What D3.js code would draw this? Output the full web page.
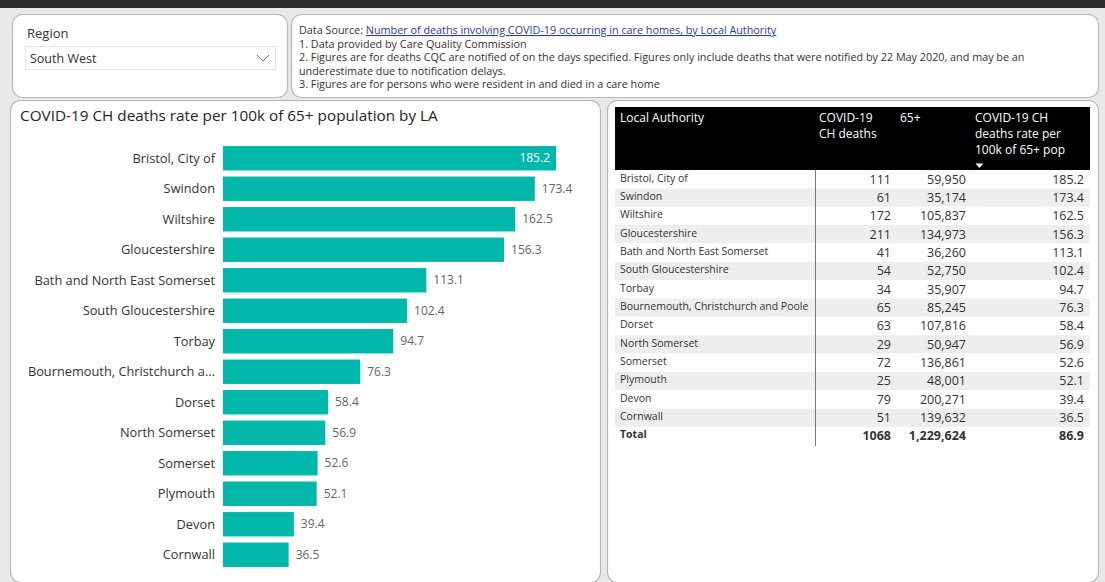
<!DOCTYPE html>
<html>
<head>
<meta charset="utf-8">
<script src="https://cdn.jsdelivr.net/npm/d3@7"></script>
<style>
  body { margin: 0; background: #e9e9e9; }
  svg { display: block; font-family: "Open Sans", "Noto Sans", sans-serif; }
</style>
</head>
<body>
<div id="chart"></div>
<script>
var authorities = ["Bristol, City of", "Swindon", "Wiltshire", "Gloucestershire", "Bath and North East Somerset",
  "South Gloucestershire", "Torbay", "Bournemouth, Christchurch and Poole", "Dorset", "North Somerset",
  "Somerset", "Plymouth", "Devon", "Cornwall"];
var deaths = [111, 61, 172, 211, 41, 54, 34, 65, 63, 29, 72, 25, 79, 51];
var pop65 = [59950, 35174, 105837, 134973, 36260, 52750, 35907, 85245, 107816, 50947, 136861, 48001, 200271, 139632];
var rates = [185.2, 173.4, 162.5, 156.3, 113.1, 102.4, 94.7, 76.3, 58.4, 56.9, 52.6, 52.1, 39.4, 36.5];
var totalRow = ["Total", 1068, 1229624, 86.9];
var tableHeaders = [["Local Authority"], ["COVID-19", "CH deaths"], ["65+"], ["COVID-19 CH", "deaths rate per", "100k of 65+ pop"]];
var chartTitle = "COVID-19 CH deaths rate per 100k of 65+ population by LA";
var regionLabel = "Region";
var regionValue = "South West";
var notes = [
  "1. Data provided by Care Quality Commission",
  "2. Figures are for deaths CQC are notified of on the days specified. Figures only include deaths that were notified by 22 May 2020, and may be an",
  "underestimate due to notification delays.",
  "3. Figures are for persons who were resident in and died in a care home"
];
var sourceLink = "Number of deaths involving COVID-19 occurring in care homes, by Local Authority";

var W = 1105, H = 582;
var teal = "#01B8AA";

var svg = d3.select("#chart").append("svg")
  .attr("width", W)
  .attr("height", H);

svg.append("rect").attr("width", W).attr("height", H).attr("fill", "#e9e9e9");
// dark strip along the top
svg.append("rect").attr("width", W).attr("height", 8).attr("fill", "#2b2b2b");

function panel(x, y, w, h) {
  svg.append("rect")
    .attr("x", x).attr("y", y)
    .attr("width", w).attr("height", h)
    .attr("rx", 10)
    .attr("fill", "#fff")
    .attr("stroke", "#b9b9b9")
    .attr("stroke-width", 1.2);
}

panel(12.5, 14.5, 275, 83);
panel(291.5, 14.5, 807, 83);
panel(10.5, 100.5, 590, 482);
panel(607.5, 100.5, 491, 482);

// ---- region slicer
svg.append("text").attr("x", 27).attr("y", 38)
  .attr("font-size", 13).attr("fill", "#333").text(regionLabel);
svg.append("rect").attr("x", 25.5).attr("y", 46.5).attr("width", 250).attr("height", 23)
  .attr("fill", "#fff").attr("stroke", "#e4e4e4");
svg.append("text").attr("x", 30).attr("y", 63)
  .attr("font-size", 12.5).attr("fill", "#333").text(regionValue);
svg.append("path").attr("d", "M257,55 L263,61 L269,55")
  .attr("fill", "none").attr("stroke", "#777").attr("stroke-width", 1);

// ---- notes
var notesG = svg.append("g").attr("font-size", 10.8).attr("fill", "#333");
var src = notesG.append("text").attr("x", 299).attr("y", 34);
src.append("tspan").text("Data Source: ");
src.append("tspan").attr("fill", "#2a3c9c").attr("text-decoration", "underline").text(sourceLink);
notesG.selectAll("text.note")
  .data(notes)
  .enter()
  .append("text")
  .attr("class", "note")
  .attr("x", 299)
  .attr("y", function (d, i) { return 47.5 + i * 13.5; })
  .text(function (d) { return d; });

// ---- bar chart
svg.append("text").attr("x", 20).attr("y", 121)
  .attr("font-size", 15.3).attr("fill", "#252423").text(chartTitle);

var y = d3.scaleBand()
  .domain(authorities)
  .range([143, 570])
  .paddingInner(0.2)
  .paddingOuter(0.1);

var x = d3.scaleLinear()
  .domain([0, 185.2])
  .range([223, 556]);

var bars = svg.append("g");
bars.selectAll("rect")
  .data(rates)
  .enter()
  .append("rect")
  .attr("x", x(0))
  .attr("y", function (d, i) { return y(authorities[i]); })
  .attr("width", function (d) { return x(d) - x(0); })
  .attr("height", y.bandwidth())
  .attr("fill", teal);

var maxLabel = 189;
bars.selectAll("text.cat")
  .data(authorities)
  .enter()
  .append("text")
  .attr("class", "cat")
  .attr("x", 215)
  .attr("y", function (d) { return y(d) + y.bandwidth() / 2; })
  .attr("dy", "0.35em")
  .attr("text-anchor", "end")
  .attr("font-size", 12.8)
  .attr("fill", "#333")
  .text(function (d) { return d; })
  .each(function (d) {
    var t = d3.select(this);
    var s = d;
    while (this.getComputedTextLength() > maxLabel && s.length > 1) {
      s = s.slice(0, -1);
      t.text(s.trim() + "...");
    }
  });

bars.selectAll("text.val")
  .data(rates)
  .enter()
  .append("text")
  .attr("class", "val")
  .attr("x", function (d, i) { return i === 0 ? x(d) - 6 : x(d) + 7; })
  .attr("y", function (d, i) { return y(authorities[i]) + y.bandwidth() / 2; })
  .attr("dy", "0.35em")
  .attr("text-anchor", function (d, i) { return i === 0 ? "end" : "start"; })
  .attr("font-size", 12)
  .attr("fill", function (d, i) { return i === 0 ? "#fff" : "#666"; })
  .text(function (d) { return d3.format(".1f")(d); });

// ---- table
var tbl = svg.append("g");
tbl.append("rect").attr("x", 615).attr("y", 107).attr("width", 475).attr("height", 63).attr("fill", "#000");

var colX = [620, 819, 900, 975];
tableHeaders.forEach(function (lines, c) {
  lines.forEach(function (ln, k) {
    tbl.append("text")
      .attr("x", colX[c])
      .attr("y", 122 + k * 16)
      .attr("font-size", 12)
      .attr("fill", "#fff")
      .text(ln);
  });
});
// sort arrow
tbl.append("path").attr("d", "M975.5,163.5 L983.5,163.5 L979.5,168 Z").attr("fill", "#fff");

var rowY = d3.scaleBand()
  .domain(d3.range(authorities.length + 1))
  .range([170, 170 + 18.35 * (authorities.length + 1)]);

var rows = authorities.map(function (a, i) {
  return [a, deaths[i], pop65[i], rates[i]];
});
rows.push(totalRow);

var fmtInt = d3.format(",");
var fmtRate = d3.format(".1f");
var numRight = [891, 966, 1084];

var rowG = tbl.selectAll("g.row")
  .data(rows)
  .enter()
  .append("g")
  .attr("class", "row")
  .attr("transform", function (d, i) { return "translate(0," + rowY(i) + ")"; })
  .attr("font-weight", function (d, i) { return i === rows.length - 1 ? "bold" : null; });

rowG.append("rect")
  .attr("x", 615)
  .attr("width", 475)
  .attr("height", rowY.bandwidth())
  .attr("fill", function (d, i) { return (i % 2 === 1 && i < rows.length - 1) ? "#eeeeee" : "#fff"; });

rowG.append("text")
  .attr("x", 620)
  .attr("y", 11.5)
  .attr("font-size", 10.5)
  .attr("fill", "#333")
  .text(function (d) { return d[0]; });

[1, 2, 3].forEach(function (c) {
  rowG.append("text")
    .attr("x", numRight[c - 1])
    .attr("y", 13.5)
    .attr("text-anchor", "end")
    .attr("font-size", 12.5)
    .attr("fill", "#333")
    .text(function (d) { return c === 3 ? fmtRate(d[c]) : (c === 1 ? d[c] : fmtInt(d[c])); });
});

tbl.append("line")
  .attr("x1", 815.5).attr("x2", 815.5)
  .attr("y1", 170).attr("y2", rowY(rows.length - 1) + rowY.bandwidth() + 1)
  .attr("stroke", "#777").attr("stroke-width", 1);
</script>
</body>
</html>
